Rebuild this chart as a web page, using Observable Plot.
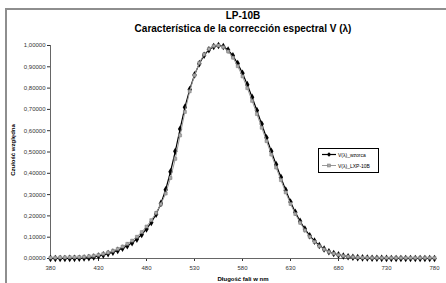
<!DOCTYPE html>
<html><head><meta charset="utf-8">
<script src="https://cdn.jsdelivr.net/npm/d3@7"></script>
<script src="https://cdn.jsdelivr.net/npm/@observablehq/plot@0.6"></script>
<style>
body{margin:0;background:#fff;}
#wrap{position:relative;width:446px;height:283px;overflow:hidden;font-family:"Liberation Sans",Arial,sans-serif;}
#frame{position:absolute;left:5px;top:8px;width:470px;height:300px;border-left:2px solid #8e8e8e;border-top:2px solid #8e8e8e;}
.t{position:absolute;left:0;width:486px;text-align:center;font-weight:bold;color:#000;}
#plot{position:absolute;left:0;top:0;}
#ylab{position:absolute;left:13px;top:150px;transform:translate(-50%,-50%) rotate(-90deg);font-size:6px;font-weight:bold;white-space:nowrap;}
#xlab{position:absolute;left:243px;top:276px;transform:translateX(-50%);font-size:6px;font-weight:bold;white-space:nowrap;}
#legend{position:absolute;left:318px;top:148px;width:59px;height:23px;border:1px solid #000;background:#fff;font-size:5px;white-space:nowrap;overflow:hidden;}
#legend div{display:flex;align-items:center;height:11px;}
#legend svg{margin:0 1px 0 2px;flex:none;}
</style></head>
<body><div id="wrap">
<div id="frame"></div>
<div id="plot"></div>
<div class="t" style="top:10px;font-size:10px;">LP-10B</div>
<div class="t" style="top:23px;font-size:10px;">Característica de la corrección espectral V (λ)</div>
<div id="ylab">Czułość względna</div>
<div id="xlab">Długość fali w nm</div>
<div id="legend"></div>
</div>
<script>
const wavelengths = [380,385,390,395,400,405,410,415,420,425,430,435,440,445,450,455,460,465,470,475,480,485,490,495,500,505,510,515,520,525,530,535,540,545,550,555,560,565,570,575,580,585,590,595,600,605,610,615,620,625,630,635,640,645,650,655,660,665,670,675,680,685,690,695,700,705,710,715,720,725,730,735,740,745,750,755,760,765,770,775,780];
const vWzorca = [0.00004,0.00006,0.00012,0.00022,0.0004,0.00064,0.00121,0.00218,0.004,0.0073,0.0116,0.01684,0.023,0.0298,0.038,0.048,0.06,0.0739,0.09098,0.1126,0.13902,0.1693,0.20802,0.2586,0.323,0.4073,0.503,0.6082,0.71,0.7932,0.862,0.91485,0.954,0.9803,0.99495,1.0,0.995,0.9786,0.952,0.9154,0.87,0.8163,0.757,0.6949,0.631,0.5668,0.503,0.4412,0.381,0.321,0.265,0.217,0.175,0.1382,0.107,0.0816,0.061,0.04458,0.032,0.0232,0.017,0.01192,0.00821,0.00572,0.0041,0.00293,0.00209,0.00148,0.00105,0.00074,0.00052,0.00036,0.00025,0.00017,0.00012,0.00008,0.00006,0.00004,0.00003,0.00002,0.00002];
const vLXP = [0.004,0.004,0.005,0.005,0.006,0.006,0.007,0.008,0.010,0.013,0.017,0.022,0.028,0.036,0.045,0.056,0.069,0.084,0.102,0.124,0.150,0.180,0.214,0.255,0.305,0.378,0.468,0.578,0.688,0.785,0.860,0.918,0.958,0.984,0.998,1.0,0.992,0.972,0.943,0.903,0.855,0.800,0.740,0.678,0.614,0.551,0.488,0.427,0.368,0.310,0.256,0.209,0.168,0.132,0.102,0.078,0.058,0.043,0.031,0.023,0.017,0.012,0.009,0.007,0.005,0.004,0.004,0.003,0.003,0.003,0.003,0.003,0.003,0.003,0.003,0.003,0.003,0.003,0.003,0.003,0.003];
const xTicks = [380,430,480,530,580,630,680,730,780];
const yTicks = [0,0.1,0.2,0.3,0.4,0.5,0.6,0.7,0.8,0.9,1.0];
const seriesNames = ["V(λ)_wzorca","V(λ)_LXP-10B"];

const dataW = wavelengths.map((x,i)=>({x, y:vWzorca[i]}));
const dataL = wavelengths.map((x,i)=>({x, y:vLXP[i]}));
const fmt = d => d.toFixed(5).replace(".", ",");

const chart = Plot.plot({
  width: 446, height: 283,
  marginLeft: 50, marginRight: 12, marginTop: 45, marginBottom: 25,
  style: {fontFamily: "'Liberation Sans', Arial, sans-serif", fontSize: "6px", background: "transparent", color: "#333"},
  x: {domain: [380, 780], ticks: xTicks, tickSize: 3, tickPadding: 4, label: null, tickFormat: d => String(d)},
  y: {domain: [0, 1], ticks: yTicks, tickSize: 3, tickPadding: 2, label: null, tickFormat: fmt},
  marks: [
    Plot.ruleY([0], {stroke: "#666", strokeWidth: 1}),
    Plot.ruleX([380], {stroke: "#666", strokeWidth: 1}),
    Plot.line(dataW, {x: "x", y: "y", stroke: "#000", strokeWidth: 1.2}),
    Plot.dot(dataW, {x: "x", y: "y", symbol: "diamond", r: 2.3, fill: "#000", stroke: "none"}),
    Plot.line(dataL, {x: "x", y: "y", stroke: "#9a9a9a", strokeWidth: 1}),
    Plot.dot(dataL, {x: "x", y: "y", symbol: "square", r: 1.7, fill: "#a8a8a8", stroke: "#7a7a7a", strokeWidth: 0.5})
  ]
});
document.getElementById("plot").appendChild(chart);

// legend
const leg = document.getElementById("legend");
const styles = [
  {stroke:"#000", sw:1.2, marker:'<path d="M8,2.3 L10.2,4.5 L8,6.7 L5.8,4.5 Z" fill="#000"/>'},
  {stroke:"#9a9a9a", sw:1, marker:'<rect x="6.5" y="3" width="3" height="3" fill="#a8a8a8" stroke="#7a7a7a" stroke-width="0.5"/>'}
];
seriesNames.forEach((name,i)=>{
  const s = styles[i];
  const row = document.createElement("div");
  row.innerHTML = `<svg width="16" height="9"><line x1="1" x2="15" y1="4.5" y2="4.5" stroke="${s.stroke}" stroke-width="${s.sw}"/>${s.marker}</svg><span>${name}</span>`;
  leg.appendChild(row);
});
</script>
</body></html>
